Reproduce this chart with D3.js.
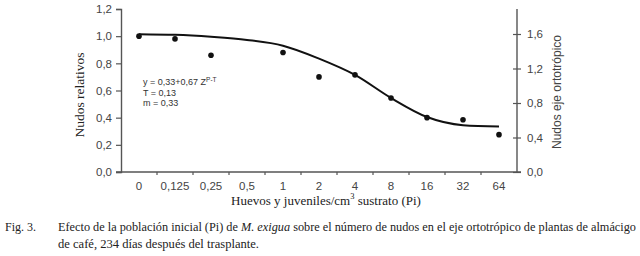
<!DOCTYPE html>
<html>
<head>
<meta charset="utf-8">
<script src="https://cdn.jsdelivr.net/npm/d3@7"></script>
<style>
  body { margin: 0; background: #fff; }
  svg { display: block; }
  .serif { font-family: "Liberation Serif", "Times New Roman", "DejaVu Serif", serif; }
  .sans { font-family: "Liberation Sans", Arial, sans-serif; }
</style>
</head>
<body>
<div id="chart"></div>
<script>
// categorías del eje x (Pi)
const categorias = ["0", "0,125", "0,25", "0,5", "1", "2", "4", "8", "16", "32", "64"];
// nudos relativos observados (sin dato en 0,5)
const observados = [1.0, 0.98, 0.86, null, 0.88, 0.70, 0.715, 0.545, 0.40, 0.385, 0.275];
// curva ajustada
const ajuste = [1.015, 1.01, 0.995, 0.972, 0.93, 0.835, 0.715, 0.545, 0.405, 0.345, 0.335];
const ticksIzq = [0, 0.2, 0.4, 0.6, 0.8, 1.0, 1.2];
const ticksDer = [0, 0.4, 0.8, 1.2, 1.6];

const W = 640, H = 256;
const svg = d3.select("#chart").append("svg")
    .attr("width", W).attr("height", H);

const x = d3.scaleBand().domain(categorias).range([121, 517]);
const y = d3.scaleLinear().domain([0, 1.2]).range([172, 9]);
const y2 = d3.scaleLinear().domain([0, 1.6]).range([172, 34]);

const coma = d => d3.format(".1f")(d).replace(".", ",");
const ejeColor = "#555";

// eje izquierdo
const gL = svg.append("g").attr("transform", "translate(121,0)")
    .call(d3.axisLeft(y).tickValues(ticksIzq).tickFormat(coma).tickSize(5).tickPadding(4));
// eje derecho
const gR = svg.append("g").attr("transform", "translate(517,0)")
    .call(d3.axisRight(y2).tickValues(ticksDer).tickFormat(coma).tickSize(4).tickPadding(6));
gR.selectAll(".tick line").attr("x1", -4);
gR.select(".domain").attr("d", `M0,${y(1.2)}V172`);
// eje x
const gB = svg.append("g").attr("transform", "translate(0,172)")
    .call(d3.axisBottom(x).tickSize(0).tickPadding(10));
gB.select(".domain").attr("d", "M116,0H521");
gB.selectAll(".tick-sep")
    .data(categorias.slice(1))
    .enter().append("line")
    .attr("x1", d => x(d)).attr("x2", d => x(d))
    .attr("y1", 0).attr("y2", 3);

[gL, gR, gB].forEach(g => {
  g.selectAll(".domain").attr("stroke", ejeColor).attr("stroke-width", 1.4);
  g.selectAll("line").attr("stroke", ejeColor).attr("stroke-width", 1.2);
  g.selectAll("text").attr("fill", "#444").attr("class", "sans")
    .attr("font-family", null).style("font-size", "11.5px");
});

// curva ajustada
const linea = d3.line()
    .x((d, i) => x(categorias[i]) + x.bandwidth() / 2)
    .y(d => y(d))
    .curve(d3.curveMonotoneX);
svg.append("path").datum(ajuste)
    .attr("d", linea)
    .attr("fill", "none").attr("stroke", "#111").attr("stroke-width", 2);

// puntos observados
svg.selectAll("circle.obs")
    .data(observados.map((v, i) => ({c: categorias[i], v})).filter(d => d.v !== null))
    .enter().append("circle")
    .attr("cx", d => x(d.c) + x.bandwidth() / 2)
    .attr("cy", d => y(d.v))
    .attr("r", 2.8).attr("fill", "#111");

// ecuación
const eq = svg.append("g").attr("class", "sans")
    .style("font-size", "9px").attr("fill", "#333");
const t1 = eq.append("text").attr("x", 143).attr("y", 85);
t1.append("tspan").text("y = 0,33+0,67 Z");
t1.append("tspan").attr("dy", -3).style("font-size", "6.5px").text("P-T");
eq.append("text").attr("x", 143).attr("y", 95.5).text("T = 0,13");
eq.append("text").attr("x", 143).attr("y", 106).text("m = 0,33");

// títulos de ejes
svg.append("text").attr("class", "serif")
    .attr("transform", "translate(84,95) rotate(-90)")
    .attr("text-anchor", "middle")
    .style("font-size", "13.5px").attr("fill", "#222")
    .text("Nudos relativos");
svg.append("text").attr("class", "sans")
    .attr("transform", "translate(561,92) rotate(-90)")
    .attr("text-anchor", "middle")
    .style("font-size", "12px").attr("fill", "#444")
    .text("Nudos eje ortotrópico");

const xt = svg.append("text").attr("class", "serif")
    .attr("x", 326).attr("y", 205)
    .attr("text-anchor", "middle")
    .style("font-size", "13px").attr("fill", "#222");
xt.append("tspan").text("Huevos y juveniles/cm");
xt.append("tspan").attr("dy", -6).style("font-size", "8.5px").text("3");
xt.append("tspan").attr("dy", 6).text(" sustrato (Pi)");

// pie de figura
const cap = svg.append("g").attr("class", "serif")
    .style("font-size", "12px").attr("fill", "#222");
cap.append("text").attr("x", 5).attr("y", 231).text("Fig. 3.");
const c1 = cap.append("text").attr("x", 58).attr("y", 231)
    .attr("textLength", 578).attr("lengthAdjust", "spacingAndGlyphs");
c1.append("tspan").text("Efecto de la población inicial (Pi) de ");
c1.append("tspan").style("font-style", "italic").text("M. exigua");
c1.append("tspan").text(" sobre el número de nudos en el  eje ortotrópico de plantas de almácigo");
cap.append("text").attr("x", 58).attr("y", 248)
    .attr("textLength", 201).attr("lengthAdjust", "spacingAndGlyphs")
    .text("de café, 234 días después del trasplante.");
</script>
</body>
</html>
